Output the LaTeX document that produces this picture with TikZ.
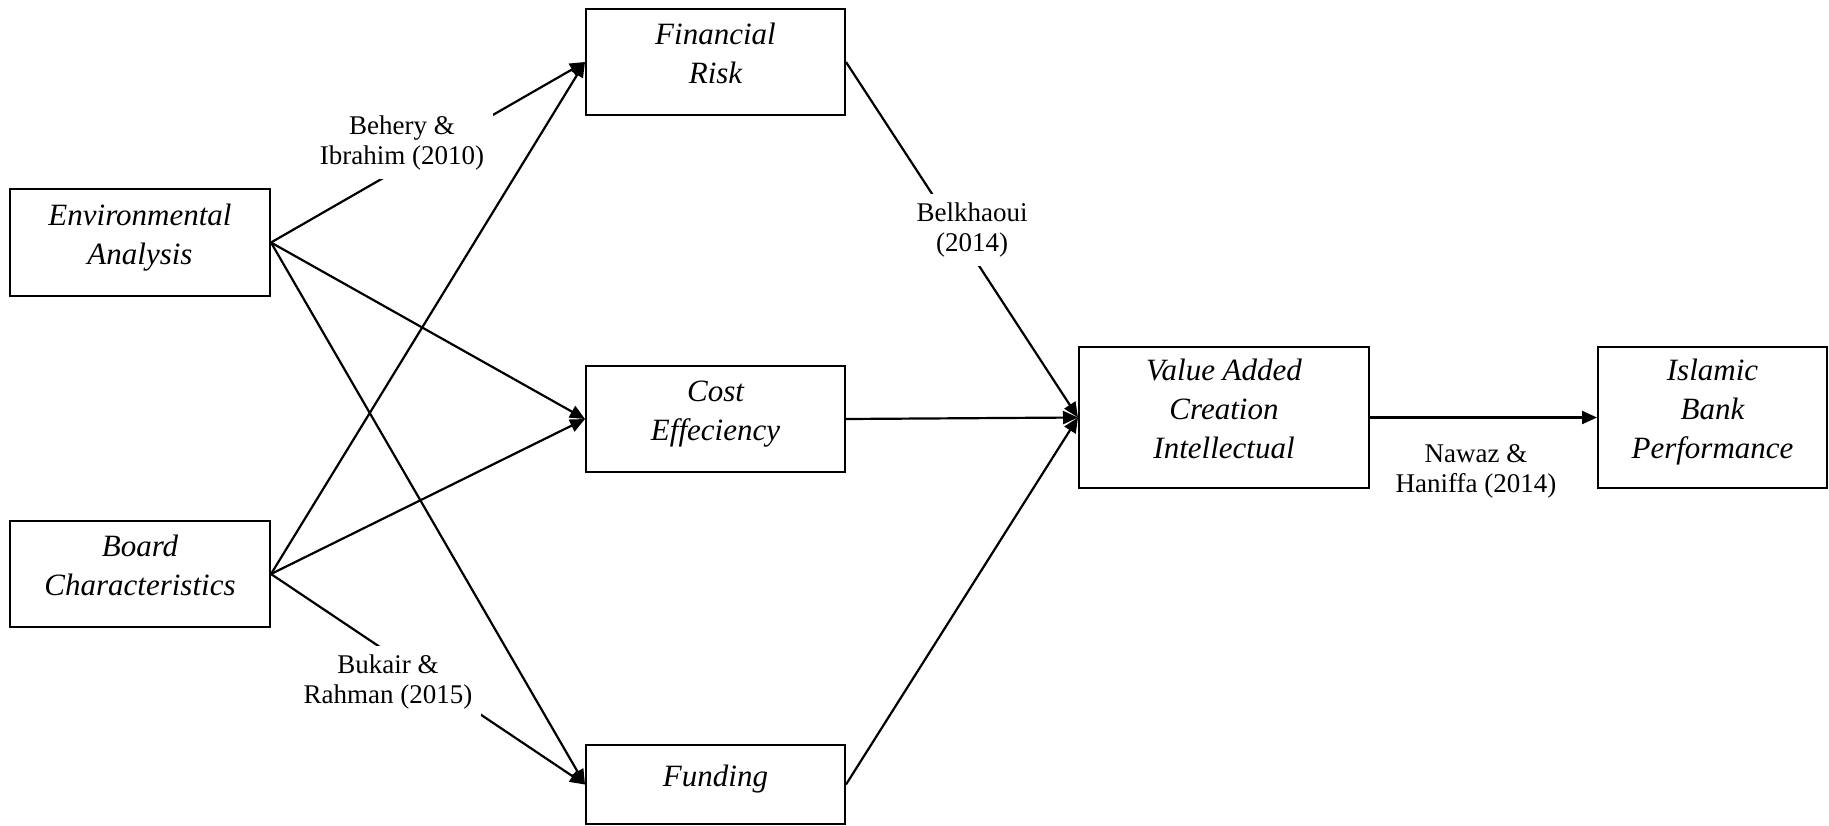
\documentclass[tikz,border=0pt]{standalone}
\usepackage{fontspec}
\setmainfont{Liberation Serif}
\usetikzlibrary{arrows.meta}
\begin{document}
\begin{tikzpicture}[x=0.5pt,y=-0.5pt,
  box/.style={draw, line width=1pt, inner sep=0pt, align=center, text depth=8.5pt,
    font=\itshape\fontsize{15.5}{19.5}\selectfont},
  cite/.style={fill=white, inner sep=4.5pt, align=center,
    font=\fontsize{13.5}{15}\selectfont},
  link/.style={line width=1.1pt, -{Triangle[length=7.5pt,width=6.5pt]}}]
\useasboundingbox (0,0) rectangle (1829,825);

% constructs
\node[box, minimum width=130pt, minimum height=53.5pt] (env) at (140,242.5) {Environmental\\Analysis};
\node[box, minimum width=130pt, minimum height=53pt] (board) at (140,574) {Board\\Characteristics};
\node[box, minimum width=129.5pt, minimum height=53pt] (fr) at (715.5,62) {Financial\\Risk};
\node[box, minimum width=129.5pt, minimum height=53pt] (cost) at (715.5,419) {Cost\\Effeciency};
\node[box, minimum width=129.5pt, minimum height=39.5pt] (fund) at (715.5,784.5) {Funding};
\node[box, minimum width=145pt, minimum height=70.5pt] (va) at (1224,417.5) {Value Added\\Creation\\Intellectual};
\node[box, minimum width=114.5pt, minimum height=70.5pt] (isl) at (1712.5,417.5) {Islamic\\Bank\\Performance};

% hypothesised relations
\draw[link] (env.east) -- (fr.west);
\draw[link] (env.east) -- (cost.west);
\draw[link] (env.east) -- (fund.west);
\draw[link] (board.east) -- (fr.west);
\draw[link] (board.east) -- (cost.west);
\draw[link] (board.east) -- (fund.west);
\draw[link] (fr.east) -- (va.west);
\draw[link] (cost.east) -- (va.west);
\draw[link] (fund.east) -- (va.west);
\draw[link] (va.east) -- (isl.west);

% supporting literature
\node[cite] (behery) at (402,143) {Behery \&\\Ibrahim (2010)};
\node[cite] (bukair) at (388,682) {Bukair \&\\Rahman (2015)};
\node[cite] (belk) at (972,230) {Belkhaoui\\(2014)};
\node[cite] (nawaz) at (1476,471) {Nawaz \&\\Haniffa (2014)};
\end{tikzpicture}
\end{document}
